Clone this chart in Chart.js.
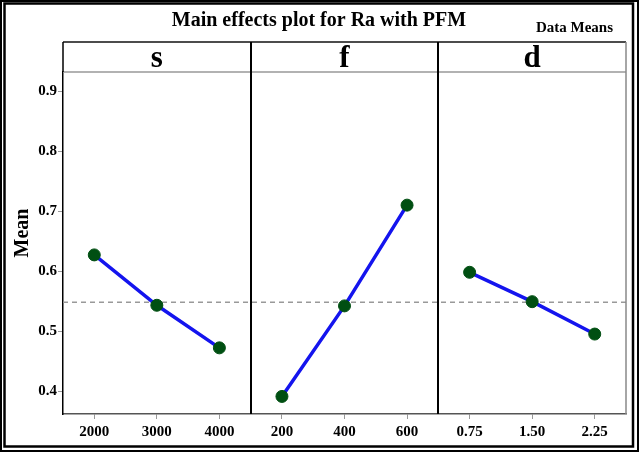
<!DOCTYPE html>
<html>
<head>
<meta charset="utf-8">
<script src="https://cdn.jsdelivr.net/npm/chart.js@4.4.0/dist/chart.umd.min.js"></script>
<style>
html,body{margin:0;padding:0;background:#fff;}
canvas{display:block;}
</style>
</head>
<body>
<canvas id="c" width="640" height="454"></canvas>
<script>
// ---- data ----
const factors = ['s', 'f', 'd'];
const sLevels = ['2000', '3000', '4000'];
const fLevels = ['200', '400', '600'];
const dLevels = ['0.75', '1.50', '2.25'];
const sMeans = [0.627, 0.543, 0.472];
const fMeans = [0.391, 0.542, 0.710];
const dMeans = [0.598, 0.549, 0.495];
const yTicks = [0.4, 0.5, 0.6, 0.7, 0.8, 0.9];
const grandMean = 0.548;

const levelSets = [sLevels, fLevels, dLevels];
const meanSets = [sMeans, fMeans, dMeans];
const tickLabels = [].concat(sLevels, fLevels, dLevels);
const tickPositions = [];
levelSets.forEach((lv, p) => lv.forEach((_, i) => tickPositions.push(p * 3 + i + 0.5)));

const SERIF = "'Liberation Serif', 'DejaVu Serif', serif";

const panelDatasets = meanSets.map((vals, p) => ({
  label: factors[p],
  data: vals.map((v, i) => ({ x: p * 3 + i + 0.5, y: v })),
  borderColor: '#1414ee',
  borderWidth: 3.5,
  pointRadius: 6,
  pointBackgroundColor: '#004f12',
  pointBorderColor: '#004f12',
  pointBorderWidth: 1,
  fill: false,
  tension: 0,
  order: 1
}));

const meanLine = {
  label: 'mean',
  data: [{ x: 0, y: grandMean }, { x: 9, y: grandMean }],
  borderColor: '#999999',
  borderWidth: 1.5,
  borderDash: [5, 4],
  pointRadius: 0,
  fill: false,
  order: 10
};

const decor = {
  id: 'decor',
  afterDraw(chart) {
    const ctx = chart.ctx;
    const a = chart.chartArea;
    const xs = chart.scales.x;
    const headTop = a.top - 30;
    ctx.save();
    // outer double frame
    ctx.strokeStyle = '#000';
    ctx.lineWidth = 2;
    ctx.strokeRect(1, 1, 637, 450);
    ctx.lineWidth = 2.5;
    ctx.strokeRect(4.5, 3.5, 628.5, 443);
    // header lines
    ctx.lineWidth = 1.5;
    ctx.strokeStyle = '#111';
    ctx.beginPath(); ctx.moveTo(a.left, headTop); ctx.lineTo(a.right, headTop); ctx.stroke();
    ctx.strokeStyle = '#999';
    ctx.beginPath(); ctx.moveTo(a.left, a.top); ctx.lineTo(a.right, a.top); ctx.stroke();
    // left line above chart area
    ctx.strokeStyle = '#000';
    ctx.beginPath(); ctx.moveTo(a.left, headTop); ctx.lineTo(a.left, a.top); ctx.stroke();
    // right border
    ctx.strokeStyle = '#888';
    ctx.beginPath(); ctx.moveTo(a.right, headTop); ctx.lineTo(a.right, a.bottom); ctx.stroke();
    // panel separators
    ctx.strokeStyle = '#000';
    ctx.lineWidth = 2;
    [3, 6].forEach(v => {
      const px = Math.round(xs.getPixelForValue(v));
      ctx.beginPath(); ctx.moveTo(px, headTop); ctx.lineTo(px, a.bottom); ctx.stroke();
    });
    // panel labels
    ctx.fillStyle = '#000';
    ctx.textAlign = 'center';
    ctx.textBaseline = 'alphabetic';
    ctx.font = 'bold 31px ' + SERIF;
    factors.forEach((f, p) => {
      const cx = (xs.getPixelForValue(p * 3) + xs.getPixelForValue(p * 3 + 3)) / 2;
      ctx.fillText(f, cx, a.top - 5);
    });
    // title
    ctx.font = 'bold 20px ' + SERIF;
    ctx.fillText('Main effects plot for Ra with PFM', 319, 26);
    ctx.textAlign = 'right';
    ctx.font = 'bold 15px ' + SERIF;
    ctx.fillText('Data Means', 613, 32);
    // y title
    ctx.save();
    ctx.translate(28, 233);
    ctx.rotate(-Math.PI / 2);
    ctx.textAlign = 'center';
    ctx.font = 'bold 20px ' + SERIF;
    ctx.fillText('Mean', 0, 0);
    ctx.restore();
    ctx.restore();
  }
};

new Chart(document.getElementById('c'), {
  type: 'line',
  data: { datasets: [meanLine].concat(panelDatasets) },
  options: {
    responsive: false,
    animation: false,
    devicePixelRatio: 1,
    layout: { padding: { top: 72, right: 14, bottom: 0, left: 0 } },
    plugins: { legend: { display: false }, tooltip: { enabled: false }, title: { display: false } },
    scales: {
      x: {
        type: 'linear',
        min: 0,
        max: 9,
        afterBuildTicks: s => { s.ticks = tickPositions.map(v => ({ value: v })); },
        afterFit: s => { s.height = 40; },
        ticks: {
          autoSkip: false,
          maxRotation: 0,
          padding: 4,
          color: '#000',
          font: { family: SERIF, size: 15, weight: 'bold' },
          callback: (v, i) => tickLabels[i]
        },
        grid: { drawOnChartArea: false, drawTicks: true, tickLength: 5, color: '#999' },
        border: { display: true, color: '#555', width: 1.5 }
      },
      y: {
        type: 'linear',
        min: 0.3617,
        max: 0.932,
        afterBuildTicks: s => { s.ticks = yTicks.map(v => ({ value: v })); },
        afterFit: s => { s.width = 63; },
        ticks: {
          padding: 1,
          color: '#000',
          font: { family: SERIF, size: 15, weight: 'bold' },
          callback: v => Number(v).toFixed(1)
        },
        grid: { drawOnChartArea: false, drawTicks: true, tickLength: 5, color: '#999' },
        border: { display: true, color: '#000', width: 1.5 }
      }
    }
  },
  plugins: [decor]
});
</script>
</body>
</html>
